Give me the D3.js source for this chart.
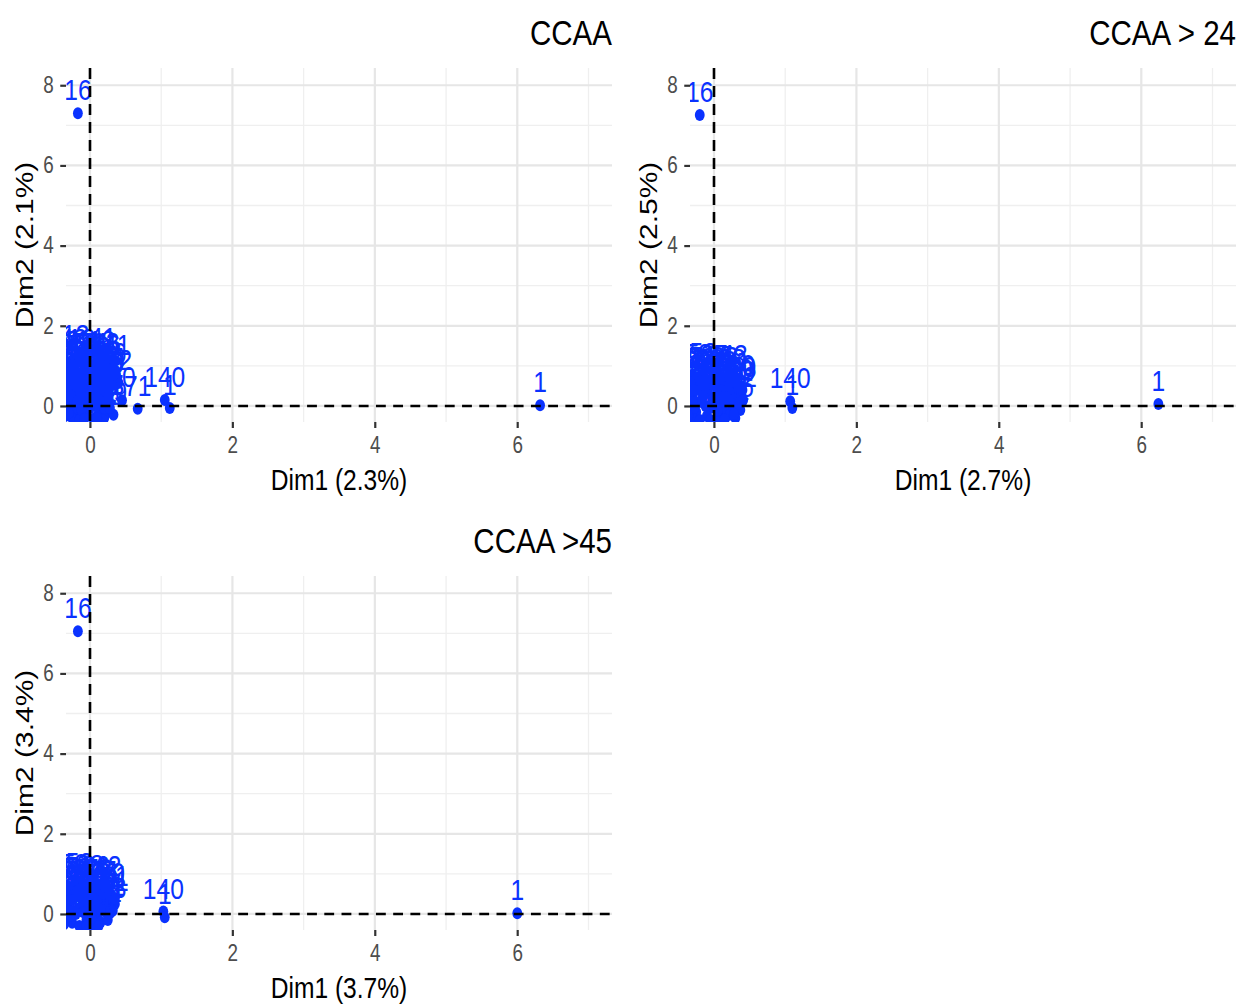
<!DOCTYPE html>
<html><head><meta charset="utf-8">
<script src="https://cdn.jsdelivr.net/npm/d3@7"></script>
<style>html,body{margin:0;padding:0;background:#fff;}</style>
</head><body><div id="chart"></div>
<script>
// ---------- data ----------
const panelTitles = ["CCAA", "CCAA > 24", "CCAA >45"];
const xTitles = ["Dim1 (2.3%)", "Dim1 (2.7%)", "Dim1 (3.7%)"];
const yTitles = ["Dim2 (2.1%)", "Dim2 (2.5%)", "Dim2 (3.4%)"];
const xMajorTicks = [0, 2, 4, 6];
const xMinorTicks = [1, 3, 5, 7];
const yMajorTicks = [0, 2, 4, 6, 8];
const yMinorTicks = [1, 3, 5, 7];

const ccaaX = [-0.2, 0.18, 0.4, 0.05, -0.3, -0.1, 0.25, 0.3, -0.35, -0.2, 0.0, 0.15, -0.05, -0.3, 0.2, 0.2, -0.15, 0.05, -0.35, 0.25, -0.25, 0.1, -0.1, 0.18, -0.3, 0.0, 0.15, -0.2, 0.25, -0.35, -0.05, 0.1, -0.25, 0.05, 0.33, -0.15, 0.2, 0.2, -0.25, 0.1, 0.28, -0.12, 0.0, 0.25,
  -0.33, -0.28, -0.22, -0.08, 0.08, 0.12, 0.22, 0.32, 0.25, -0.32, -0.12, 0.07, 0.18, -0.27, -0.08, 0.12, 0.28, 0.2, -0.36, -0.18, 0.03, 0.2, 0.15, -0.12, 0.08, 0.28, -0.3, -0.08, 0.18, 0.1, -0.2, 0.0, -0.36, 0.15, 0.22, 0.28, -0.05, 0.25, -0.15, 0.1,
  0.45, 0.67, 1.05, 1.12, 6.32, -0.17];
const ccaaY = [1.19, 1.12, 0.57, 1.0, 0.95, 0.85, 0.8, 0.55, 0.7, 0.65, 0.6, 0.55, 0.45, 0.4, 0.35, 0.3, 0.3, 0.25, 0.2, 0.15, 0.1, 0.1, 0.05, 0.0, -0.05, -0.05, -0.1, -0.15, -0.15, -0.25, -0.2, -0.25, -0.3, -0.32, -0.22, -0.35, -0.3, -0.05, 1.05, 0.9, 0.95, 1.1, 0.75, 0.2,
  1.1, 0.85, 0.98, 1.0, 1.05, 0.78, 1.0, 0.75, 0.45, 0.55, 0.6, 0.7, 0.62, 0.3, 0.2, 0.4, 0.5, 0.35, 0.05, 0.12, 0.35, 0.05, 0.1, -0.1, 0.0, -0.05, -0.18, -0.32, -0.35, -0.3, 0.5, 0.9, 0.85, 0.95, 0.15, 0.55, 0.5, 0.25, 0.75, 0.2,
  0.14, -0.07, 0.15, -0.05, 0.02, 7.3];
const ccaaLabels = ["13", "41", "12", "34", "27", "58", "62", "19", "83", "45", "72", "96", "101", "115", "37", "88", "64", "120", "7", "53", "29", "133", "81", "47", "112", "5", "66", "99", "24", "128", "38", "75", "104", "17", "59", "91", "123", "3", "8", "50", "141", "12", "22", "26",
  "143", "30", "85", "57", "118", "44", "93", "36", "52", "109", "70", "25", "137", "61", "84", "105", "33", "48", "126", "15", "78", "95", "42", "110", "63", "87", "131", "20", "54", "102", "69", "139", "4", "116", "32", "76", "121", "55", "98", "67",
  "90", "71", "140", "1", "1", "16"];

const ccaa24X = [-0.3, -0.15, 0.0, 0.15, 0.25, -0.35, -0.2, 0.05, 0.3, -0.1, 0.2, -0.3, 0.0, 0.3, -0.2, 0.1, -0.35, 0.25, -0.05, 0.15, -0.25, 0.22, 0.37, -0.1, 0.05, -0.3, 0.3, -0.2, 0.1, -0.25, 0.35,
  -0.33, -0.22, -0.05, 0.08, 0.2, 0.32, -0.28, -0.12, 0.12, 0.38, -0.36, -0.15, 0.05, 0.22, 0.35, -0.28, -0.12, 0.05, 0.28, -0.36, -0.05, 0.15, 0.0, -0.3, 0.18, 0.4, -0.18, 0.28,
  0.41, 1.07, 1.1, 6.24, -0.2];
const ccaa24Y = [0.72, 0.75, 0.7, 0.65, 0.6, 0.55, 0.5, 0.45, 0.45, 0.35, 0.3, 0.25, 0.2, 0.2, 0.1, 0.05, 0.0, 0.0, -0.05, -0.15, -0.15, -0.22, -0.1, -0.25, -0.3, -0.3, -0.3, -0.35, 0.55, 0.65, 0.35,
  0.6, 0.72, 0.6, 0.68, 0.5, 0.55, 0.4, 0.5, 0.38, 0.3, 0.2, 0.25, 0.3, 0.12, 0.05, -0.05, 0.0, -0.12, -0.2, -0.25, -0.35, -0.33, 0.55, 0.1, 0.22, 0.4, 0.62, 0.7,
  0.15, 0.12, -0.05, 0.05, 7.26];
const ccaa24Labels = ["5", "52", "27", "33", "68", "84", "41", "97", "110", "23", "56", "79", "131", "44", "18", "62", "102", "3", "87", "39", "120", "71", "26", "9", "115", "48", "94", "136", "21", "7", "60",
  "53", "58", "29", "35", "76", "91", "106", "46", "83", "13", "124", "65", "38", "99", "4", "117", "74", "57", "22", "129", "66", "101", "50", "112", "88", "30", "59", "43",
  "12", "140", "1", "1", "16"];

const ccaa45X = [-0.3, -0.15, 0.0, 0.12, -0.35, -0.2, 0.05, 0.25, -0.1, 0.2, -0.3, 0.0, 0.3, -0.2, 0.1, -0.35, 0.28, -0.05, 0.15, -0.25, 0.05, -0.15, 0.2, -0.25, 0.35, 0.32,
  -0.33, -0.22, -0.05, 0.08, 0.18, 0.3, -0.28, -0.12, 0.1, 0.35, -0.36, -0.15, 0.05, 0.22, -0.28, -0.1, 0.03, 0.25, -0.36, -0.05, 0.12, 0.0, -0.3, 0.15, -0.18, 0.25,
  1.03, 1.05, 6.0, -0.17];
const ccaa45Y = [0.68, 0.7, 0.65, 0.55, 0.5, 0.45, 0.4, 0.35, 0.3, 0.2, 0.15, 0.1, 0.12, 0.0, -0.05, -0.1, 0.02, -0.15, -0.2, -0.22, -0.28, -0.3, 0.45, 0.6, 0.25, 0.08,
  0.6, 0.68, 0.55, 0.62, 0.5, 0.45, 0.35, 0.42, 0.3, 0.38, 0.2, 0.15, 0.2, 0.05, -0.05, 0.05, -0.12, -0.15, -0.25, -0.3, -0.3, 0.5, 0.05, 0.12, 0.58, 0.62,
  0.06, -0.08, 0.02, 7.05];
const ccaa45Labels = ["5", "52", "28", "73", "86", "40", "99", "11", "23", "57", "78", "130", "31", "19", "64", "104", "3", "88", "35", "121", "8", "47", "66", "7", "21", "13",
  "53", "59", "29", "36", "77", "90", "107", "45", "84", "61", "125", "69", "39", "98", "116", "72", "56", "24", "128", "67", "100", "51", "113", "89", "58", "42",
  "140", "1", "1", "16"];

// ---------- layout ----------
const SX = 0.82;             // horizontal compression of the whole picture
const W = 1242, H = 1007;
const xDomain = [-0.337, 7.33];
const yDomain = [-0.4, 8.43];
const panels = [
  {title: panelTitles[0], xt: xTitles[0], yt: yTitles[0], xs: ccaaX, ys: ccaaY, labs: ccaaLabels, left: 66, right: 612, top: 68, bottom: 422},
  {title: panelTitles[1], xt: xTitles[1], yt: yTitles[1], xs: ccaa24X, ys: ccaa24Y, labs: ccaa24Labels, left: 690, right: 1236, top: 68, bottom: 422},
  {title: panelTitles[2], xt: xTitles[2], yt: yTitles[2], xs: ccaa45X, ys: ccaa45Y, labs: ccaa45Labels, left: 66, right: 612, top: 576, bottom: 930}
];
const BLUE = "#0A32FF";
const FONT = "'Liberation Sans', Arial, Helvetica, sans-serif";

const svg = d3.select("#chart").append("svg").attr("width", W).attr("height", H)
  .style("display", "block").attr("font-family", FONT);
const root = svg.append("g").attr("transform", `scale(${SX},1)`);
const defs = svg.append("defs");

panels.forEach((p, i) => {
  const L = p.left / SX, R = p.right / SX;
  const x = d3.scaleLinear().domain(xDomain).range([L, R]);
  const y = d3.scaleLinear().domain(yDomain).range([p.bottom, p.top]);
  const g = root.append("g");

  defs.append("clipPath").attr("id", "clip" + i).append("rect")
    .attr("x", L).attr("y", p.top).attr("width", R - L).attr("height", p.bottom - p.top);

  // grid
  const grid = g.append("g");
  grid.selectAll(".vmin").data(xMinorTicks).join("line")
    .attr("x1", d => x(d)).attr("x2", d => x(d)).attr("y1", p.top).attr("y2", p.bottom)
    .attr("stroke", "#EFEFEF").attr("stroke-width", 1.3 / SX);
  grid.selectAll(".hmin").data(yMinorTicks).join("line")
    .attr("x1", L).attr("x2", R).attr("y1", d => y(d)).attr("y2", d => y(d))
    .attr("stroke", "#EFEFEF").attr("stroke-width", 1.3);
  grid.selectAll(".vmaj").data(xMajorTicks).join("line")
    .attr("x1", d => x(d)).attr("x2", d => x(d)).attr("y1", p.top).attr("y2", p.bottom)
    .attr("stroke", "#E6E6E6").attr("stroke-width", 2.2 / SX);
  grid.selectAll(".hmaj").data(yMajorTicks).join("line")
    .attr("x1", L).attr("x2", R).attr("y1", d => y(d)).attr("y2", d => y(d))
    .attr("stroke", "#E6E6E6").attr("stroke-width", 2.2);

  const pts = p.xs.map((v, k) => ({x: v, y: p.ys[k], lab: p.labs[k]}));
  const plot = g.append("g").attr("clip-path", `url(#clip${i})`);
  plot.selectAll("circle").data(pts).join("circle")
    .attr("cx", d => x(d.x)).attr("cy", d => y(d.y)).attr("r", 6).attr("fill", BLUE);
  plot.selectAll("text").data(pts).join("text")
    .attr("x", d => x(d.x)).attr("y", d => y(d.y) - 13)
    .attr("text-anchor", "middle").attr("font-size", 30).attr("fill", BLUE)
    .text(d => d.lab);
  // dashed reference lines
  plot.append("line").attr("x1", L).attr("x2", R).attr("y1", y(0)).attr("y2", y(0))
    .attr("stroke", "#000").attr("stroke-width", 2.6).attr("stroke-dasharray", "12,9");
  plot.append("line").attr("x1", x(0)).attr("x2", x(0)).attr("y1", p.top).attr("y2", p.bottom)
    .attr("stroke", "#000").attr("stroke-width", 2.6 / SX).attr("stroke-dasharray", "11,7");

  // axes
  const ax = g.append("g").attr("transform", `translate(${L},0)`)
    .call(d3.axisLeft(y).tickValues(yMajorTicks).tickSize(7).tickPadding(8).tickFormat(d3.format("d")));
  ax.select(".domain").remove();
  ax.selectAll("line").attr("stroke", "#333").attr("stroke-width", 2.2);
  ax.selectAll("text").attr("fill", "#4D4D4D").attr("font-size", 23).attr("font-family", FONT);
  const bx = g.append("g").attr("transform", `translate(0,${p.bottom})`)
    .call(d3.axisBottom(x).tickValues(xMajorTicks).tickSize(6).tickPadding(9).tickFormat(d3.format("d")));
  bx.select(".domain").remove();
  bx.selectAll("line").attr("stroke", "#333").attr("stroke-width", 2.2 / SX);
  bx.selectAll("text").attr("fill", "#4D4D4D").attr("font-size", 23).attr("font-family", FONT);

  // titles
  g.append("text").attr("x", R).attr("y", p.top - 23).attr("text-anchor", "end")
    .attr("font-size", 36).attr("fill", "#000").text(p.title);
  g.append("text").attr("x", (L + R) / 2).attr("y", p.bottom + 68).attr("text-anchor", "middle")
    .attr("font-size", 30).attr("fill", "#000").text(p.xt);
  const yc = (p.top + p.bottom) / 2, xc = (p.left - 33) / SX;
  g.append("text").attr("transform", `translate(${xc},${yc}) rotate(-90)`)
    .attr("text-anchor", "middle").attr("font-size", 30).attr("fill", "#000").text(p.yt);
});
</script></body></html>
